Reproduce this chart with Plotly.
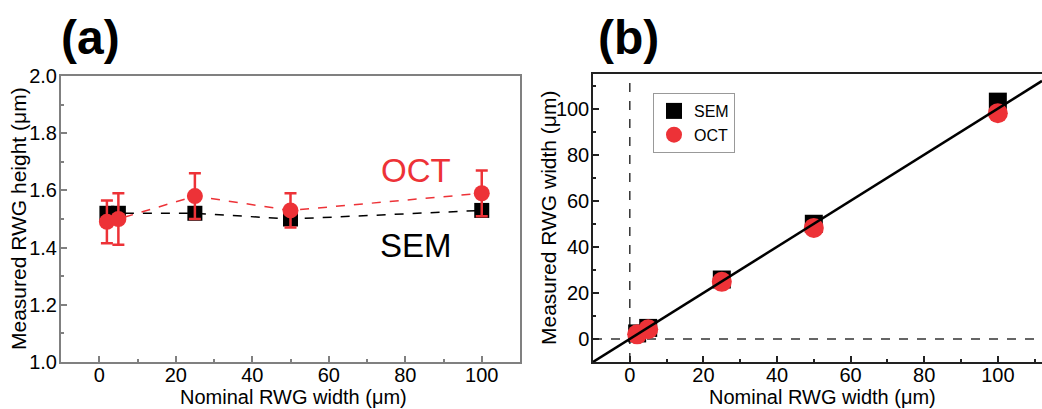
import plotly.graph_objects as go

# ---------------- data ----------------
nominal_width = [2, 5, 25, 50, 100]

# panel (a): measured RWG height (um)
height_sem = [1.52, 1.52, 1.52, 1.50, 1.53]
height_oct = [1.49, 1.50, 1.58, 1.53, 1.59]
height_oct_err = [0.075, 0.09, 0.08, 0.06, 0.08]

# panel (b): measured RWG width (um)
width_sem = [2.4, 4.8, 25.8, 50.0, 103.0]
width_oct = [2.0, 4.2, 24.8, 48.2, 98.0]

identity_range = [-10, 112]
zero_line_x = [-10, 112]
zero_line_y = [-10, 115]

RED = "#ed3237"
FONT = "Liberation Sans, Arial, sans-serif"
W, H = 1042, 409

fig = go.Figure()

# ---------- panel (a) ----------
fig.add_trace(go.Scatter(
    x=nominal_width, y=height_sem, mode="lines+markers",
    line=dict(color="black", width=1.5, dash="dash"),
    marker=dict(symbol="square", size=15, color="black"),
    xaxis="x", yaxis="y", showlegend=False))
fig.add_trace(go.Scatter(
    x=nominal_width, y=height_oct, mode="lines+markers",
    line=dict(color=RED, width=1.5, dash="dash"),
    marker=dict(symbol="circle", size=16, color=RED),
    error_y=dict(type="data", array=height_oct_err, color=RED, thickness=2.5, width=6),
    xaxis="x", yaxis="y", showlegend=False))

# ---------- panel (b) ----------
fig.add_trace(go.Scatter(
    x=[0, 0], y=zero_line_y, mode="lines",
    line=dict(color="#333333", width=1.5, dash="dash"),
    xaxis="x2", yaxis="y2", showlegend=False, hoverinfo="skip"))
fig.add_trace(go.Scatter(
    x=zero_line_x, y=[0, 0], mode="lines",
    line=dict(color="#333333", width=1.5, dash="dash"),
    xaxis="x2", yaxis="y2", showlegend=False, hoverinfo="skip"))
fig.add_trace(go.Scatter(
    x=nominal_width, y=width_sem, mode="markers", name="SEM",
    marker=dict(symbol="square", size=18, color="black"),
    xaxis="x2", yaxis="y2"))
fig.add_trace(go.Scatter(
    x=nominal_width, y=width_oct, mode="markers", name="OCT",
    marker=dict(symbol="circle", size=20, color=RED),
    xaxis="x2", yaxis="y2"))
fig.add_trace(go.Scatter(
    x=identity_range, y=identity_range, mode="lines",
    line=dict(color="black", width=2.5),
    xaxis="x2", yaxis="y2", showlegend=False, hoverinfo="skip"))

def px_x(p):
    return p / W

def px_y(p):
    return 1 - p / H

tickfont = dict(family=FONT, size=20, color="black")

common = dict(showgrid=False, zeroline=False, ticks="inside", ticklen=6,
              tickfont=tickfont, showline=True, mirror=True, automargin=False)

fig.update_layout(
    width=W, height=H, autosize=False,
    margin=dict(l=0, r=0, t=0, b=0, pad=0, autoexpand=False),
    paper_bgcolor="white", plot_bgcolor="white",
    font=dict(family=FONT, color="black"),
    xaxis=dict(domain=[px_x(61), px_x(520)], range=[-10, 110], dtick=20, tick0=0,
               anchor="y", linecolor="#808080", linewidth=2, tickcolor="#808080", tickwidth=1.5,
               minor=dict(ticks="inside", ticklen=3, dtick=10, tickcolor="#808080"),
               ticklabelstandoff=-6, **common),
    yaxis=dict(domain=[px_y(362), px_y(76)], range=[1.0, 2.0], dtick=0.2, tick0=1.0,
               tickformat=".1f", anchor="x", linecolor="#808080", linewidth=2,
               tickcolor="#808080", tickwidth=1.5,
               minor=dict(ticks="inside", ticklen=3, dtick=0.1, tickcolor="#808080"),
               ticklabelstandoff=-2, **common),
    xaxis2=dict(domain=[px_x(593), 1.0], range=[-10, 112], dtick=20, tick0=0,
                anchor="y2", linecolor="#222222", linewidth=1.5, tickcolor="#222222", tickwidth=1.5,
                minor=dict(ticks="inside", ticklen=3, dtick=10, tickcolor="#222222"),
                ticklabelstandoff=-6, **common),
    yaxis2=dict(domain=[px_y(362), px_y(74)], range=[-10, 115], dtick=20, tick0=0,
                anchor="x2", linecolor="#222222", linewidth=1.5, tickcolor="#222222", tickwidth=1.5,
                minor=dict(ticks="inside", ticklen=3, dtick=10, tickcolor="#222222"),
                ticklabelstandoff=-2, **common),
    legend=dict(x=px_x(653), y=px_y(93), xanchor="left", yanchor="top",
                bordercolor="#999999", borderwidth=1, bgcolor="white",
                font=dict(family=FONT, size=16, color="black"),
                itemsizing="trace", tracegroupgap=0),
)

def note(text, x, y, size, color="black", angle=0, xref="paper", yref="paper"):
    return dict(text=text, x=x, y=y, xref=xref, yref=yref, xanchor="center", yanchor="middle",
                textangle=angle, showarrow=False, borderpad=0,
                font=dict(family=FONT, size=size, color=color))

ann = [
    note("<b>(a)</b>", px_x(90), px_y(37), 48),
    note("<b>(b)</b>", px_x(628), px_y(37), 48),
    note("Measured RWG height (μm)", px_x(18), px_y(219), 21, angle=-90),
    note("Measured RWG width (μm)", px_x(548), px_y(218), 21, angle=-90),
    note("Nominal RWG width (μm)", px_x(293), px_y(397), 20),
    note("Nominal RWG width (μm)", px_x(822), px_y(397), 20),
    note("OCT", 82.8, 1.671, 33, color=RED, xref="x", yref="y"),
    note("SEM", 82.8, 1.406, 33, xref="x", yref="y"),
]
fig.update_layout(annotations=ann)

fig.write_html("out.html")
